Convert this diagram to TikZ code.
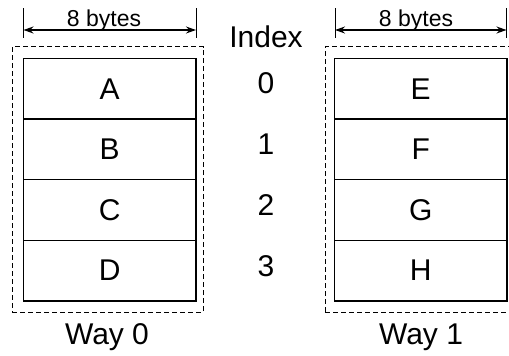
\documentclass[tikz,border=0pt]{standalone}
\usepackage{fontspec}
\setmainfont{Liberation Sans}
\usetikzlibrary{arrows.meta}
\begin{document}
\begin{tikzpicture}[x=1pt,y=-1pt,
  cell/.style={draw, line width=1.3pt, minimum width=172.5pt, minimum height=60.6pt, inner sep=0pt, font=\fontsize{30}{32}\selectfont},
  dashbox/.style={draw, dashed, dash pattern=on 5pt off 3pt, line width=1pt, minimum height=265.5pt, inner sep=0pt},
  big/.style={font=\fontsize{30}{32}\selectfont, inner sep=0pt},
  small/.style={font=\fontsize{23}{25}\selectfont, inner sep=0pt, anchor=base},
  tick/.style={line width=1pt},
  dim/.style={line width=1.3pt, {Stealth[length=10pt,width=7pt]}-{Stealth[length=10pt,width=7pt]}}
]
\useasboundingbox (0,0) rectangle (509,356);
% dashed outlines
\node[dashbox, minimum width=191pt] (w0) at (107.5,179.25) {};
\node[dashbox, minimum width=189pt] (w1) at (419.5,179.25) {};
% way 0 cells
\node[cell] (A) at (109.75,88.8) {A};
\node[cell] (B) at (109.75,149.4) {B};
\node[cell] (C) at (109.75,210.0) {C};
\node[cell] (D) at (109.75,270.6) {D};
% way 1 cells
\node[cell] (E) at (420.75,88.8) {E};
\node[cell] (F) at (420.75,149.4) {F};
\node[cell] (G) at (420.75,210.0) {G};
\node[cell] (H) at (420.75,270.6) {H};
% index column
\node[big] (idx) at (266,37) {Index};
\node[big] (i0) at (266,83) {0};
\node[big] (i1) at (266,144) {1};
\node[big] (i2) at (266,205) {2};
\node[big] (i3) at (266,266) {3};
% way labels
\node[big] (l0) at (107,337) {Way 0};
\node[big] (l1) at (421,337) {Way 1};
% dimension lines
\coordinate (t0a) at (23.5,8);  \coordinate (t0b) at (23.5,38);
\coordinate (t0c) at (196,8);   \coordinate (t0d) at (196,38);
\coordinate (t1a) at (335,8);   \coordinate (t1b) at (335,38);
\coordinate (t1c) at (506.5,8); \coordinate (t1d) at (506.5,38);
\draw[tick] (t0a) -- (t0b);
\draw[tick] (t0c) -- (t0d);
\draw[tick] (t1a) -- (t1b);
\draw[tick] (t1c) -- (t1d);
\coordinate (a0l) at (23.5,30); \coordinate (a0r) at (196,30);
\coordinate (a1l) at (335,30);  \coordinate (a1r) at (506.5,30);
\draw[dim] (a0l) -- (a0r);
\draw[dim] (a1l) -- (a1r);
\node[small] (b0) at (104,27) {8 bytes};
\node[small] (b1) at (416,27) {8 bytes};
\end{tikzpicture}
\end{document}
